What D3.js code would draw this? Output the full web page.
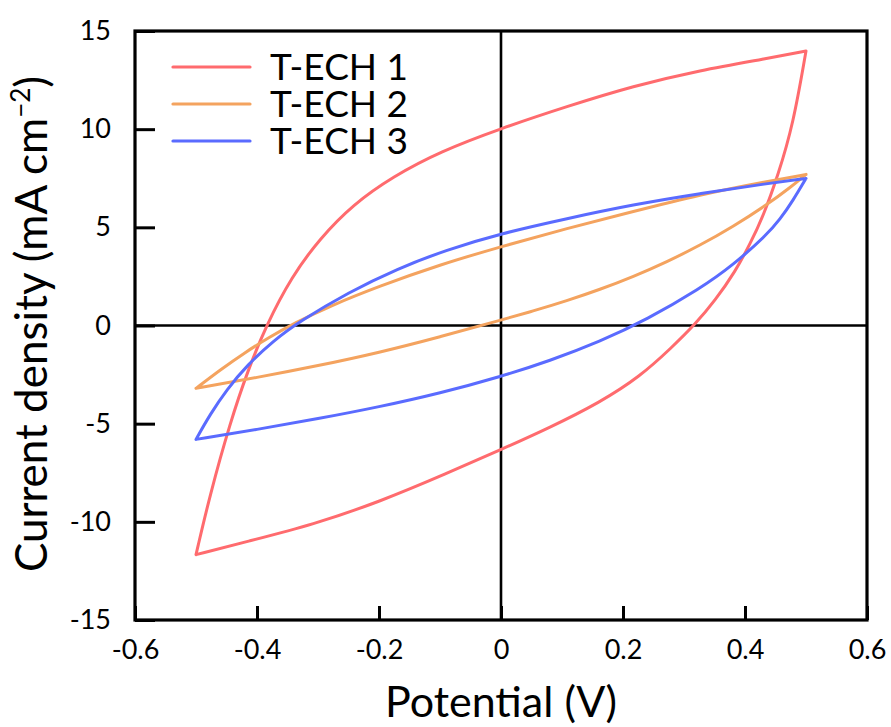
<!DOCTYPE html>
<html>
<head>
<meta charset="utf-8">
<script src="https://cdn.jsdelivr.net/npm/d3@7/dist/d3.min.js"></script>
<style>
  html, body { margin: 0; padding: 0; background: #fff; }
  svg { display: block; font-family: Lato, "Open Sans", sans-serif; }
</style>
</head>
<body>
<svg id="chart" width="891" height="727"></svg>
<script>
// Cyclic voltammograms: potential (V) vs current density (mA cm^-2)
const seriesNames = ["T-ECH 1", "T-ECH 2", "T-ECH 3"];
const seriesColors = ["#ff6b6e", "#f4a35f", "#5a6bff"];

const xTicks = [-0.6, -0.4, -0.2, 0, 0.2, 0.4, 0.6];
const yTicks = [-15, -10, -5, 0, 5, 10, 15];

// T-ECH 1, anodic sweep (-0.5 -> 0.5 V)
const ech1Forward = [
  [-0.5, -11.67], [-0.477, -8.61], [-0.444, -4.94], [-0.415, -2.29], [-0.385, 0.0],
  [-0.343, 2.5], [-0.297, 4.43], [-0.243, 6.16], [-0.177, 7.59], [-0.1, 8.86],
  [0.0, 10.04], [0.108, 11.16], [0.217, 12.2], [0.326, 13.0], [0.436, 13.6],
  [0.5, 13.98]
];
// T-ECH 1, cathodic sweep (0.5 -> -0.5 V)
const ech1Reverse = [
  [0.5, 13.98], [0.479, 10.24], [0.454, 7.64], [0.43, 5.58], [0.408, 4.13],
  [0.384, 2.75], [0.351, 1.27], [0.318, 0.05], [0.28, -1.12], [0.228, -2.6],
  [0.162, -3.92], [0.08, -5.2], [0.0, -6.32], [-0.089, -7.54], [-0.198, -8.97],
  [-0.308, -10.14], [-0.416, -11.0], [-0.5, -11.67]
];

// T-ECH 2
const ech2Forward = [
  [-0.5, -3.2], [-0.46, -2.25], [-0.42, -1.38], [-0.38, -0.6], [-0.34, 0.1],
  [-0.28, 1.0], [-0.2, 2.0], [-0.1, 3.1], [0.0, 4.02], [0.108, 4.94],
  [0.217, 5.81], [0.326, 6.67], [0.436, 7.34], [0.5, 7.69]
];
const ech2Reverse = [
  [0.5, 7.7], [0.474, 7.02], [0.436, 6.15], [0.38, 5.03], [0.326, 4.08],
  [0.272, 3.24], [0.217, 2.49], [0.162, 1.83], [0.108, 1.26], [0.052, 0.73],
  [0.0, 0.28], [-0.1, -0.58], [-0.2, -1.38], [-0.3, -2.05], [-0.4, -2.65],
  [-0.5, -3.2]
];

// T-ECH 3
const ech3Forward = [
  [-0.5, -5.8], [-0.477, -4.53], [-0.449, -3.24], [-0.416, -2.02], [-0.374, -0.8],
  [-0.33, 0.21], [-0.25, 1.69], [-0.17, 2.89], [-0.09, 3.85], [0.0, 4.69],
  [0.108, 5.45], [0.217, 6.16], [0.326, 6.72], [0.436, 7.23], [0.5, 7.49]
];
const ech3Reverse = [
  [0.5, 7.49], [0.479, 6.38], [0.457, 5.39], [0.436, 4.63], [0.38, 3.06],
  [0.326, 1.87], [0.239, 0.3], [0.162, -0.82], [0.08, -1.8], [0.0, -2.6],
  [-0.1, -3.45], [-0.2, -4.15], [-0.3, -4.75], [-0.4, -5.3], [-0.5, -5.8]
];

const sweeps = [
  [ech1Forward, ech1Reverse],
  [ech2Forward, ech2Reverse],
  [ech3Forward, ech3Reverse]
];

const svg = d3.select("#chart");
const plotLeft = 135, plotRight = 867, plotTop = 31, plotBottom = 620;

const x = d3.scaleLinear().domain([-0.6, 0.6]).range([plotLeft, plotRight]);
const y = d3.scaleLinear().domain([-15, 15]).range([plotBottom, plotTop]);

// zero lines
svg.append("line")
  .attr("x1", plotLeft).attr("x2", plotRight).attr("y1", y(0)).attr("y2", y(0))
  .attr("stroke", "#000").attr("stroke-width", 2.6);
svg.append("line")
  .attr("x1", x(0)).attr("x2", x(0)).attr("y1", plotTop).attr("y2", plotBottom)
  .attr("stroke", "#000").attr("stroke-width", 2.6);

// curves: each loop is the anodic sweep followed by the cathodic sweep
const line = d3.line()
  .x(d => x(d[0])).y(d => y(d[1]))
  .curve(d3.curveBasis);

const curves = svg.append("g");
sweeps.forEach((pair, i) => {
  curves.append("path")
    .attr("d", line(pair[0]) + line(pair[1]))
    .attr("fill", "none")
    .attr("stroke", seriesColors[i])
    .attr("stroke-width", 3)
    .attr("stroke-linejoin", "round")
    .attr("stroke-linecap", "round");
});

// axes
const xAxis = d3.axisBottom(x).tickValues(xTicks).tickSizeInner(-14).tickSizeOuter(0)
  .tickPadding(20).tickFormat(d => (d === 0 ? "0" : d.toFixed(1)));
const yAxis = d3.axisLeft(y).tickValues(yTicks).tickSizeInner(-20).tickSizeOuter(0)
  .tickPadding(24).tickFormat(d => String(d));

const gx = svg.append("g").attr("transform", `translate(0,${plotBottom})`).call(xAxis);
const gy = svg.append("g").attr("transform", `translate(${plotLeft},0)`).call(yAxis);

[gx, gy].forEach(g => {
  g.select(".domain").remove();
  g.selectAll(".tick line").attr("stroke", "#000").attr("stroke-width", 3);
  g.selectAll(".tick text").attr("fill", "#000").attr("font-size", 27)
    .attr("font-family", "Lato, sans-serif");
});

// frame
svg.append("rect")
  .attr("x", plotLeft).attr("y", plotTop)
  .attr("width", plotRight - plotLeft).attr("height", plotBottom - plotTop)
  .attr("fill", "none").attr("stroke", "#000").attr("stroke-width", 3.2);

// legend
const legend = svg.append("g");
seriesNames.forEach((name, i) => {
  const ly = 67 + i * 37;
  legend.append("line")
    .attr("x1", 173).attr("x2", 250).attr("y1", ly).attr("y2", ly)
    .attr("stroke", seriesColors[i]).attr("stroke-width", 3.2)
    .attr("stroke-linecap", "round");
  legend.append("text")
    .attr("x", 270).attr("y", ly).attr("dy", "0.36em")
    .attr("font-size", 37).attr("fill", "#000")
    .text(name);
});

// axis titles
svg.append("text")
  .attr("x", (plotLeft + plotRight) / 2).attr("y", 717)
  .attr("text-anchor", "middle").attr("font-size", 43).attr("fill", "#000")
  .text("Potential (V)");

const yTitle = svg.append("text")
  .attr("transform", "translate(47,324) rotate(-90)")
  .attr("text-anchor", "middle").attr("font-size", 44).attr("fill", "#000");
yTitle.append("tspan").text("Current density (mA cm");
yTitle.append("tspan").attr("font-size", 26).attr("dy", -17).text("−2");
yTitle.append("tspan").attr("dy", 17).text(")");
</script>
</body>
</html>
